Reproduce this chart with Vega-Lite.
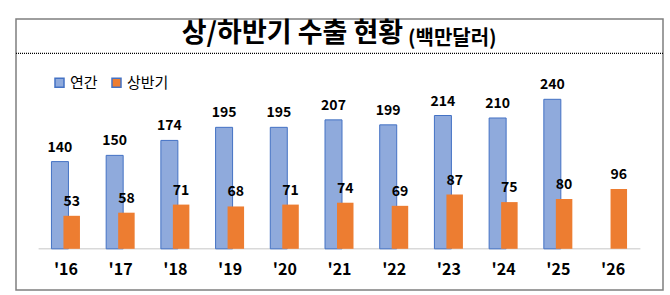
{
  "$schema": "https://vega.github.io/schema/vega-lite/v6.json",
  "width": 647,
  "height": 271,
  "autosize": {"type": "none"},
  "padding": {"left": 16, "top": 19, "right": 7, "bottom": 5},
  "background": "white",
  "config": {
    "view": {"stroke": "#7f7f7f", "strokeWidth": 1.5},
    "font": "Noto Sans CJK KR"
  },
  "title": {
    "text": "상/하반기 수출 현황",
    "fontSize": 27,
    "fontWeight": "bold",
    "font": "Noto Sans CJK KR",
    "color": "#000000",
    "anchor": "middle",
    "dx": -47,
    "offset": -50,
    "baseline": "alphabetic"
  },
  "data": {
    "values": [
      {"year": "'16", "series": "연간", "value": 140},
      {"year": "'17", "series": "연간", "value": 150},
      {"year": "'18", "series": "연간", "value": 174},
      {"year": "'19", "series": "연간", "value": 195},
      {"year": "'20", "series": "연간", "value": 195},
      {"year": "'21", "series": "연간", "value": 207},
      {"year": "'22", "series": "연간", "value": 199},
      {"year": "'23", "series": "연간", "value": 214},
      {"year": "'24", "series": "연간", "value": 210},
      {"year": "'25", "series": "연간", "value": 240},
      {"year": "'16", "series": "상반기", "value": 53},
      {"year": "'17", "series": "상반기", "value": 58},
      {"year": "'18", "series": "상반기", "value": 71},
      {"year": "'19", "series": "상반기", "value": 68},
      {"year": "'20", "series": "상반기", "value": 71},
      {"year": "'21", "series": "상반기", "value": 74},
      {"year": "'22", "series": "상반기", "value": 69},
      {"year": "'23", "series": "상반기", "value": 87},
      {"year": "'24", "series": "상반기", "value": 75},
      {"year": "'25", "series": "상반기", "value": 80},
      {"year": "'26", "series": "상반기", "value": 96}
    ]
  },
  "encoding": {
    "x": {
      "field": "year",
      "type": "nominal",
      "sort": ["'16", "'17", "'18", "'19", "'20", "'21", "'22", "'23", "'24", "'25", "'26"],
      "scale": {"paddingInner": 0, "paddingOuter": 0.413},
      "axis": {
        "title": null,
        "domain": false,
        "ticks": false,
        "grid": false,
        "labelAngle": 0,
        "labelFontSize": 16,
        "labelFontWeight": "bold",
        "labelColor": "#000000",
        "labelFont": "Noto Sans CJK KR",
        "offset": -41.2,
        "labelPadding": 13
      }
    }
  },
  "layer": [
    {
      "data": {"values": [{"k": 1}]},
      "mark": {"type": "rule", "strokeDash": [1, 1], "color": "#000000", "strokeWidth": 1.3},
      "encoding": {
        "x": null,
        "y": {"datum": 313.8, "type": "quantitative", "scale": {"domain": [-66.1, 368.9], "nice": false, "zero": false}, "axis": null}
      }
    },
    {
      "data": {"values": [{"k": 1}]},
      "mark": {"type": "rule", "color": "#D9D9D9", "strokeWidth": 1.5, "xOffset": -27.34, "x2Offset": 27.34},
      "encoding": {
        "x": {"datum": "'16", "type": "nominal"},
        "x2": {"datum": "'26"},
        "y": {"datum": 0, "type": "quantitative", "scale": {"domain": [-66.1, 368.9], "nice": false, "zero": false}, "axis": null}
      }
    },
    {
      "transform": [{"filter": "datum.series === '연간'"}],
      "mark": {"type": "bar", "width": 17, "xOffset": -6, "stroke": "#4472C4", "strokeWidth": 1},
      "encoding": {
        "y": {"field": "value", "type": "quantitative", "scale": {"domain": [-66.1, 368.9], "nice": false, "zero": false}, "axis": null},
        "color": {
          "field": "series",
          "type": "nominal",
          "scale": {"domain": ["연간", "상반기"], "range": ["#8FAADC", "#ED7D31"]},
          "legend": {
            "orient": "none",
            "legendX": 36,
            "legendY": 56,
            "direction": "horizontal",
            "title": null,
            "symbolType": "square",
            "symbolSize": 81,
            "labelFontSize": 15,
            "labelFont": "Noto Sans CJK KR",
            "labelColor": "#000000",
            "columnPadding": 11,
            "labelOffset": 3,
            "padding": 0
          }
        }
      }
    },
    {
      "transform": [{"filter": "datum.series === '상반기'"}],
      "mark": {"type": "bar", "width": 16.5, "xOffset": 5.75},
      "encoding": {
        "y": {"field": "value", "type": "quantitative", "scale": {"domain": [-66.1, 368.9], "nice": false, "zero": false}, "axis": null},
        "color": {"field": "series", "type": "nominal"}
      }
    },
    {
      "transform": [{"filter": "datum.series === '연간'"}],
      "mark": {"type": "text", "fontSize": 14, "fontWeight": "bold", "xOffset": -6, "dy": -10, "baseline": "alphabetic", "color": "#000000"},
      "encoding": {
        "y": {"field": "value", "type": "quantitative", "scale": {"domain": [-66.1, 368.9], "nice": false, "zero": false}, "axis": null},
        "text": {"field": "value", "type": "quantitative"}
      }
    },
    {
      "transform": [{"filter": "datum.series === '상반기'"}],
      "mark": {"type": "text", "fontSize": 14, "fontWeight": "bold", "xOffset": 5.75, "dy": -10, "baseline": "alphabetic", "color": "#000000"},
      "encoding": {
        "y": {"field": "value", "type": "quantitative", "scale": {"domain": [-66.1, 368.9], "nice": false, "zero": false}, "axis": null},
        "text": {"field": "value", "type": "quantitative"}
      }
    },
    {
      "data": {"values": [{"t": "(백만달러)"}]},
      "mark": {"type": "text", "fontSize": 20, "fontWeight": "bold", "align": "left", "baseline": "alphabetic", "dx": -41, "color": "#000000"},
      "encoding": {
        "x": {"datum": "'23", "type": "nominal"},
        "y": {"datum": 327, "type": "quantitative", "scale": {"domain": [-66.1, 368.9], "nice": false, "zero": false}, "axis": null},
        "text": {"field": "t"}
      }
    }
  ]
}
